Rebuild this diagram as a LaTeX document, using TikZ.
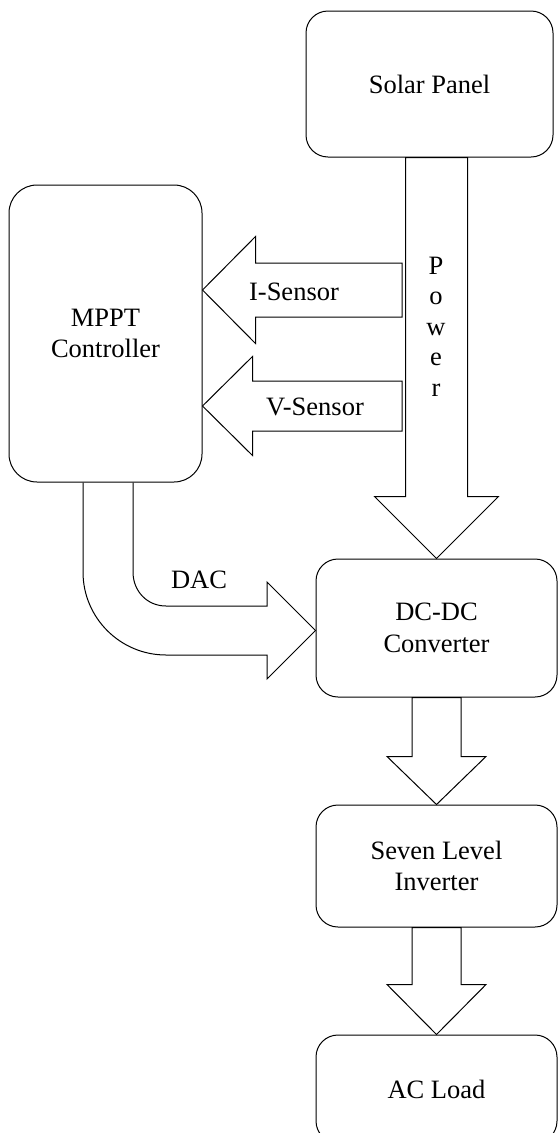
\documentclass[tikz,border=0pt]{standalone}
\usepackage{fontspec}
\setmainfont{Liberation Serif}
\usetikzlibrary{calc}
\tikzset{
  box/.style={draw, line width=1pt, rounded corners=22pt, align=center,
    font=\fontsize{26.5}{31.5}\selectfont, inner sep=0pt},
  blk/.style={draw, line width=1pt, line join=miter},
  lbl/.style={font=\fontsize{26.5}{31.5}\selectfont, inner sep=0pt},
}
% downward block arrow: #1 start, #2 tip, #3 shaft half width, #4 head half width, #5 head length
\newcommand\downblock[5]{%
  \draw[blk] let \p1=(#1), \p2=(#2) in
    (\x2-#3,\y1) -- (\x2-#3,\y2+#5) -- (\x2-#4,\y2+#5) -- (\x2,\y2)
    -- (\x2+#4,\y2+#5) -- (\x2+#3,\y2+#5) -- (\x2+#3,\y1) -- cycle;}
% leftward block arrow: #1 tail centre, #2 tip
\newcommand\leftblock[5]{%
  \draw[blk] let \p1=(#1), \p2=(#2) in
    (\x1,\y2+#3) -- (\x2+#5,\y2+#3) -- (\x2+#5,\y2+#4) -- (\x2,\y2)
    -- (\x2+#5,\y2-#4) -- (\x2+#5,\y2-#3) -- (\x1,\y2-#3) -- cycle;}
\begin{document}
\begin{tikzpicture}[x=1pt,y=-1pt]
\fill[white] (0,0) rectangle (558,1133);
\useasboundingbox (0,0) rectangle (558,1133);
\clip (0,0) rectangle (558,1133);

% boxes
\node[box, minimum width=247pt, minimum height=146pt] (solar) at (429.5,84) {Solar Panel};
\node[box, rounded corners=28pt, minimum width=193pt, minimum height=297pt] (mppt) at (105.5,333.5) {MPPT\\Controller};
\node[box, minimum width=241pt, minimum height=138pt] (dcdc) at (436.5,628) {DC-DC\\Converter};
\node[box, minimum width=241pt, minimum height=122pt] (inv) at (436.5,866) {Seven Level\\Inverter};
\node[box, minimum width=241pt, minimum height=108pt] (load) at (436.5,1089) {AC Load};

% power arrow
\downblock{dcdc.north |- solar.south}{dcdc.north}{31pt}{62pt}{62pt}
\node[lbl, anchor=north, align=center, font=\fontsize{26.5}{30.5}\selectfont] (power) at (436,256.5) {P\\o\\w\\e\\r};

% sensor arrows
\coordinate (itail) at (402,290);
\coordinate (vtail) at (402,406);
\leftblock{itail}{mppt.east |- itail}{27pt}{53.5pt}{53pt}
\leftblock{vtail}{mppt.east |- vtail}{25pt}{49.5pt}{50pt}
\node[lbl] (isen) at (294,292) {I-Sensor};
\node[lbl] (vsen) at (315,407) {V-Sensor};

% DAC arrow
\coordinate (dacO) at ($(mppt.south)+(-22.5,0)$);
\coordinate (dacI) at ($(mppt.south)+(27.5,0)$);
\coordinate (dactip) at ($(dcdc.west)+(0,2.5)$);
\draw[blk] (dacO) -- (83,572) .. controls (83,617.8) and (120.2,655) .. (166,655)
  -- (267,655) -- (267,679) -- (dactip) -- (267,582) -- (267,606) -- (166,606)
  .. controls (147.2,606) and (133,591.2) .. (133,572) -- (dacI);
\node[lbl] (dac) at (199,580) {DAC};

% lower arrows
\downblock{dcdc.south}{inv.north}{24.5pt}{49.5pt}{48pt}
\downblock{inv.south}{load.north}{24.5pt}{49.5pt}{50pt}
\end{tikzpicture}
\end{document}
